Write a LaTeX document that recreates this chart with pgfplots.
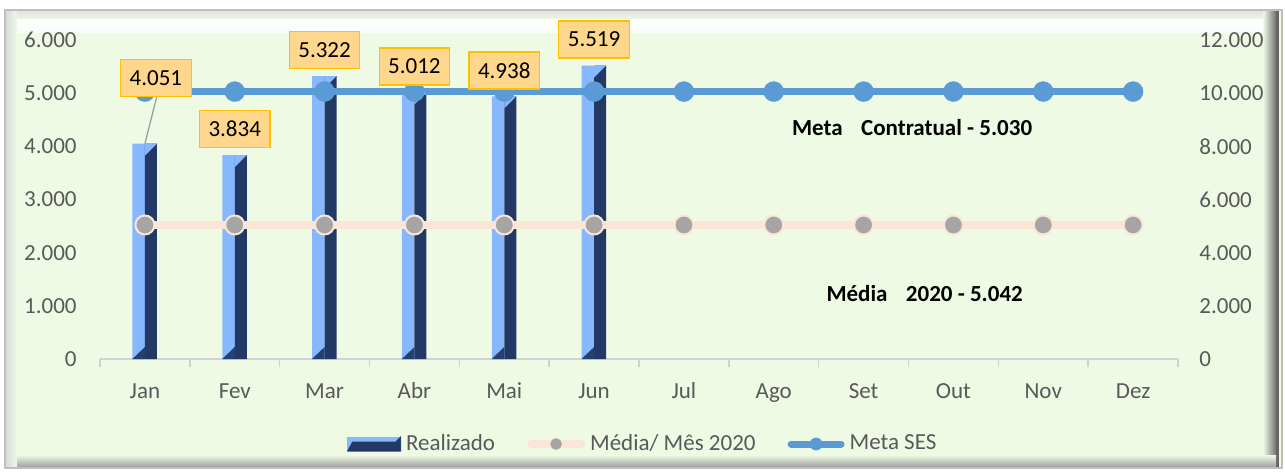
\documentclass[border=0pt]{standalone}
\usepackage{pgfplots}
\usepackage{pgfplotstable}
\pgfplotsset{compat=1.18}
\usepackage{fontspec}
\setmainfont{Carlito}

\definecolor{bg}{RGB}{239,250,229}
\definecolor{barlight}{RGB}{135,183,255}
\definecolor{bardark}{RGB}{34,57,101}
\definecolor{bardark2}{RGB}{40,64,110}
\definecolor{metablue}{RGB}{91,155,213}
\definecolor{peach}{RGB}{251,229,214}
\definecolor{graymark}{RGB}{165,165,165}
\definecolor{lblfill}{RGB}{255,215,140}
\definecolor{lblborder}{RGB}{255,192,0}
\definecolor{ticktext}{RGB}{89,89,89}
\definecolor{axisgray}{RGB}{210,210,210}

\newcommand\fs{\fontsize{11.5}{13.8}\selectfont}

% bevel triangles on the bars
\pgfdeclareplotmark{bevtop}{%
  \pgfpathmoveto{\pgfpoint{0pt}{0pt}}%
  \pgfpathlineto{\pgfpoint{6pt}{0pt}}%
  \pgfpathlineto{\pgfpoint{0pt}{-6pt}}%
  \pgfpathclose\pgfusepathqfill}
\pgfdeclareplotmark{bevbot}{%
  \pgfpathmoveto{\pgfpoint{-6.25pt}{0pt}}%
  \pgfpathlineto{\pgfpoint{0pt}{0pt}}%
  \pgfpathlineto{\pgfpoint{0pt}{6pt}}%
  \pgfpathclose\pgfusepathqfill}

\pgfplotstableread{
x y lbl dy dx
0 4051 4.051 32.8 5.5
1 3834 3.834 13 0
2 5322 5.322 13 0
3 5012 5.012 13 0
4 4938 4.938 13 0
5 5519 5.519 13 0
}\realizado

\pgfplotstableread{
x meta media
0 5030 5042
1 5030 5042
2 5030 5042
3 5030 5042
4 5030 5042
5 5030 5042
6 5030 5042
7 5030 5042
8 5030 5042
9 5030 5042
10 5030 5042
11 5030 5042
}\linhas

\begin{document}
\begin{tikzpicture}
% frame and background
\path[use as bounding box] (-50pt,-56.5pt) rectangle (592.5pt,179.5pt);
\fill[white] (-50pt,-56.5pt) rectangle (592.5pt,179.5pt);
\fill[bg] (-47.5pt,-54.5pt) rectangle (591pt,174.5pt);
\shade[left color=bg, right color=black!55] (581.5pt,-54.5pt) rectangle (588pt,174.5pt);
\fill[black!60] (588pt,-54.5pt) rectangle (589.5pt,174.5pt);
\shade[top color=bg, bottom color=black!40] (-47.5pt,-48pt) rectangle (588pt,-54.5pt);
\shade[left color=black!15, right color=bg] (-47.5pt,-54.5pt) rectangle (-41.5pt,174.5pt);
\shade[top color=black!12, bottom color=bg] (-41.5pt,169.5pt) rectangle (581.5pt,174.5pt);
\shade[top color=white, bottom color=white!60!bg] (-41.5pt,163pt) rectangle (581.5pt,169.5pt);
\draw[black!25, line width=0.6pt] (-47.5pt,-54.5pt) rectangle (591pt,174.5pt);

\begin{axis}[
  width=539pt, height=159.5pt, scale only axis,
  xmin=-0.5, xmax=11.5, ymin=0, ymax=6000,
  clip=false, scaled y ticks=false,
  axis x line*=bottom, axis y line*=left,
  x axis line style={draw=axisgray, line width=0.8pt},
  y axis line style={draw=none},
  xtick={0,...,11},
  xticklabels={Jan,Fev,Mar,Abr,Mai,Jun,Jul,Ago,Set,Out,Nov,Dez},
  minor xtick={-0.5,0.5,...,11.5},
  major tick length=0pt, minor tick length=4pt,
  tick align=outside,
  minor tick style={draw=axisgray, line width=0.8pt},
  ytick={0,1000,...,6000},
  yticklabels={0,1.000,2.000,3.000,4.000,5.000,6.000},
  ytick style={draw=none},
  tick label style={font=\fs, text=ticktext},
  xticklabel style={anchor=north, inner sep=0pt, text height=7.4pt, text depth=0pt, yshift=-12pt},
  yticklabel style={anchor=east, inner sep=0pt, xshift=-11.5pt},
]
\addplot[ybar, bar width=6.25pt, bar shift=-3.125pt, fill=barlight, draw=none] table[x=x, y=y] {\realizado};
\addplot[ybar, bar width=6pt, bar shift=3pt, fill=bardark, draw=none] table[x=x, y=y] {\realizado};
\addplot[only marks, mark=bevtop, mark options={fill=barlight, draw=none}] table[x=x, y=y] {\realizado};
\addplot[only marks, mark=bevbot, mark options={fill=bardark2, draw=none}] table[x=x, y expr=0] {\realizado};

\addplot[metablue, line width=3.5pt, mark=*, mark size=5pt,
  mark options={fill=metablue, line width=0.2pt}] table[x=x, y=meta] {\linhas};

\draw[black!40, line width=0.6pt] (axis cs:0,4051) -- (axis cs:0.13,4920);

\addplot[draw=none, mark=none, nodes near coords, point meta=explicit symbolic,
  visualization depends on={\thisrow{dy} \as \mydy},
  visualization depends on={\thisrow{dx} \as \mydx},
  nodes near coords style={anchor=center, font=\fs, text=black, fill=lblfill,
    draw=lblborder, line width=0.6pt, inner xsep=4.5pt, inner ysep=0pt,
    minimum height=18.5pt, yshift=\mydy pt, xshift=\mydx pt}]
  table[x=x, y=y, meta=lbl] {\realizado};

\node[font=\fs\bfseries] at (axis cs:8.54,4345) {Meta\hspace{0.8em}Contratual - 5.030};
\node[font=\fs\bfseries] at (axis cs:8.68,1241) {Média\hspace{0.8em}2020 - 5.042};
\end{axis}

\begin{axis}[
  width=539pt, height=159.5pt, scale only axis,
  xmin=-0.5, xmax=11.5, ymin=0, ymax=12000,
  clip=false, scaled y ticks=false,
  hide x axis,
  axis y line*=right,
  y axis line style={draw=none},
  ytick style={draw=none},
  ytick={0,2000,...,12000},
  yticklabels={0,2.000,4.000,6.000,8.000,10.000,12.000},
  yticklabel style={font=\fs, text=ticktext, anchor=west, inner sep=0pt, xshift=10.5pt},
  legend style={draw=none, fill=none, inner sep=0pt, at={(0.229,-0.2665)}, anchor=west,
    font=\fs, text=ticktext, legend columns=3,
    nodes={inner sep=0pt},
    /tikz/every odd column/.append style={column sep=2.5pt},
    /tikz/every even column/.append style={column sep=16pt}},
  legend cell align=left,
]
\addplot[peach, line width=3.75pt, mark=*, mark size=4.75pt,
  mark options={fill=graymark, draw=peach, line width=1pt}, forget plot]
  table[x=x, y=media] {\linhas};

\addlegendimage{legend image code/.code={
  \fill[barlight] (0pt,-3.5pt) rectangle (26.5pt,3.5pt);
  \fill[bardark] (0pt,-3.5pt) -- (26.5pt,-3.5pt) -- (26.5pt,3.5pt) -- (24pt,1pt) -- (2.5pt,1pt) -- cycle;
}}
\addlegendentry{Realizado}
\addlegendimage{legend image code/.code={
  \draw[peach, line width=4pt, line cap=round] (2pt,0pt) -- (27pt,0pt);
  \fill[graymark] (14.5pt,0pt) circle (2.7pt);
}}
\addlegendentry{Média/ Mês 2020}
\addlegendimage{legend image code/.code={
  \draw[metablue, line width=3.5pt, line cap=round] (2pt,0pt) -- (27pt,0pt);
  \fill[metablue] (14.5pt,0pt) circle (3pt);
}}
\addlegendentry{Meta SES}
\end{axis}
\end{tikzpicture}
\end{document}
